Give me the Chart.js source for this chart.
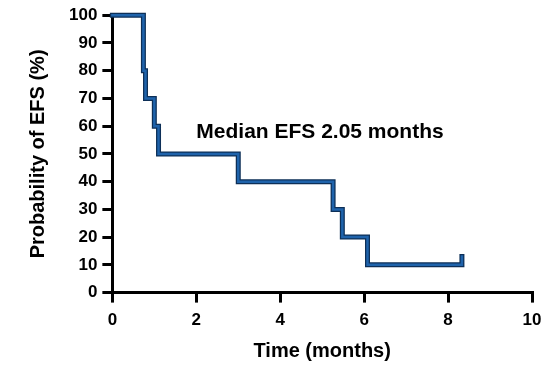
<!DOCTYPE html>
<html>
<head>
<meta charset="utf-8">
<script src="https://cdn.jsdelivr.net/npm/chart.js@4"></script>
<style>
  html, body { margin: 0; padding: 0; background: #fff; }
  #efsChart { display: block; }
</style>
</head>
<body>
<canvas id="efsChart" width="557" height="367"></canvas>
<script>
// Kaplan-Meier step points (months, % event-free), last pair is the censor tick
const times    = [0, 0.74, 0.79, 1.0, 1.1, 3.0, 5.26, 5.48, 6.08, 8.33, 8.33];
const survival = [100, 80, 70, 60, 50, 40, 30, 20, 10, 10, 13];
const xTicks = [0, 2, 4, 6, 8, 10];
const yTicks = [0, 10, 20, 30, 40, 50, 60, 70, 80, 90, 100];
const medianLabel = 'Median EFS 2.05 months';
const labelAt = { x: 2.0, y: 58 };

const points = times.map((t, i) => ({ x: t, y: survival[i] }));
const font = 'Liberation Sans, Arial, sans-serif';

// draws the median text inside the plot
const medianText = {
  id: 'medianText',
  afterDatasetsDraw(chart) {
    const { ctx, scales } = chart;
    ctx.save();
    ctx.font = 'bold 21px ' + font;
    ctx.fillStyle = '#000';
    ctx.textAlign = 'left';
    ctx.textBaseline = 'middle';
    ctx.fillText(medianLabel, scales.x.getPixelForValue(labelAt.x), scales.y.getPixelForValue(labelAt.y));
    ctx.restore();
  }
};

new Chart(document.getElementById('efsChart').getContext('2d'), {
  type: 'line',
  data: {
    datasets: [
      // first dataset is painted last, so the blue core sits on the dark edge
      { data: points, borderColor: '#1f63ab', borderWidth: 2.5, stepped: true,
        pointRadius: 0, fill: false, clip: false, borderCapStyle: 'square' },
      { data: points, borderColor: '#0d2f57', borderWidth: 5, stepped: true,
        pointRadius: 0, fill: false, clip: false, borderCapStyle: 'square' }
    ]
  },
  options: {
    responsive: false,
    animation: false,
    devicePixelRatio: 1,
    layout: { padding: { top: 8, right: 25, bottom: 0, left: 22 } },
    plugins: { legend: { display: false }, tooltip: { enabled: false } },
    scales: {
      x: {
        type: 'linear', min: 0, max: 10,
        afterBuildTicks: s => { s.ticks = xTicks.map(v => ({ value: v })); },
        grid: { drawOnChartArea: false, drawTicks: true, tickLength: 10, lineWidth: 3, color: '#000' },
        border: { display: true, width: 3, color: '#000' },
        ticks: { color: '#000', font: { family: font, size: 17, weight: 'bold' }, padding: 8, maxRotation: 0 },
        title: { display: true, text: 'Time (months)', color: '#000',
                 font: { family: font, size: 20, weight: 'bold' }, padding: { top: 0 } }
      },
      y: {
        type: 'linear', min: 0, max: 100,
        afterBuildTicks: s => { s.ticks = yTicks.map(v => ({ value: v })); },
        grid: { drawOnChartArea: false, drawTicks: true, tickLength: 10, lineWidth: 3, color: '#000' },
        border: { display: true, width: 3, color: '#000' },
        ticks: { color: '#000', font: { family: font, size: 17, weight: 'bold' }, padding: 5 },
        title: { display: true, text: 'Probability of EFS (%)', color: '#000',
                 font: { family: font, size: 20, weight: 'bold' }, padding: { bottom: 14 } }
      }
    }
  },
  plugins: [medianText]
});
</script>
</body>
</html>
